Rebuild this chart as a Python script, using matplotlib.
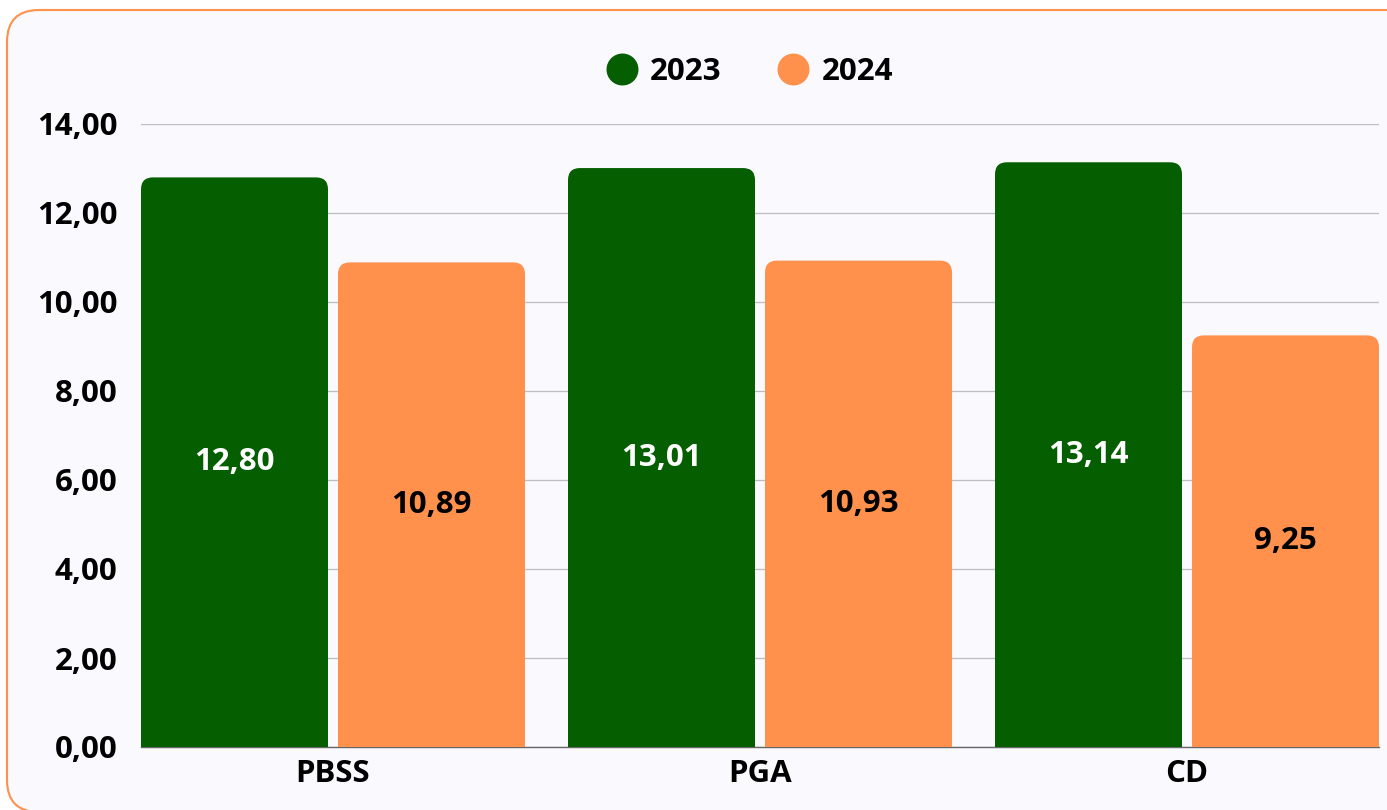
import matplotlib.pyplot as plt
from matplotlib.patches import FancyBboxPatch
from matplotlib.lines import Line2D

categories = ["PBSS", "PGA", "CD"]
series_names = ["2023", "2024"]
values_2023 = [12.80, 13.01, 13.14]
values_2024 = [10.89, 10.93, 9.25]
y_ticks = [0, 2, 4, 6, 8, 10, 12, 14]

green = "#055e00"
orange = "#ff914d"
plt.rcParams['font.family'] = ['Open Sans', 'DejaVu Sans']
plt.rcParams['font.weight'] = 'bold'
fs = 22.5

W, H = 1387, 810
fig = plt.figure(figsize=(W / 100, H / 100), dpi=100)
fig.patch.set_facecolor("white")

# карточка с закруглёнными углами
card = FancyBboxPatch((7, -2), 1420, 802, boxstyle="round,pad=0,rounding_size=32",
                      transform=None, facecolor="#f9f9fe", edgecolor=orange, linewidth=1.5,
                      zorder=-5)
fig.patches.append(card)

ax = fig.add_axes([141 / W, (H - 747) / H, (1379 - 141) / W, (747 - 124) / H])
ax.set_facecolor("none")
ax.set_zorder(2)

bar_w = 187 / 427
gap = 10 / 427
ax.set_xlim(-gap / 2 - bar_w, len(categories) - 1 + gap / 2 + bar_w)
ax.set_ylim(0, 14)

px_x = 427.0
px_y = 44.5
radius = 12 / px_x
aspect = px_x / px_y

def rounded_bar(x0, h, color):
    p = FancyBboxPatch((x0, -1), bar_w, h + 1,
                       boxstyle=f"round,pad=0,rounding_size={radius}",
                       mutation_aspect=aspect, facecolor=color, edgecolor="none",
                       zorder=3, clip_on=True)
    ax.add_patch(p)

for i, cat in enumerate(categories):
    v1 = values_2023[i]
    v2 = values_2024[i]
    x1 = i - gap / 2 - bar_w
    x2 = i + gap / 2
    rounded_bar(x1, v1, green)
    rounded_bar(x2, v2, orange)
    ax.text(x1 + bar_w / 2, v1 / 2, f"{v1:.2f}".replace(".", ","), ha="center", va="center",
            color="white", fontsize=fs, fontweight="bold", zorder=5)
    ax.text(x2 + bar_w / 2, v2 / 2, f"{v2:.2f}".replace(".", ","), ha="center", va="center",
            color="black", fontsize=fs, fontweight="bold", zorder=5)

ax.set_yticks(y_ticks, [f"{t:.2f}".replace(".", ",") for t in y_ticks])
ax.set_xticks(range(len(categories)), categories)
ax.tick_params(axis="y", length=0, pad=17, labelsize=fs)
ax.tick_params(axis="x", length=0, pad=9, labelsize=fs)
for lbl in ax.get_xticklabels() + ax.get_yticklabels():
    lbl.set_fontweight("bold")

ax.grid(axis="y", color="#bdbdbd", linewidth=0.9, zorder=1)
ax.set_axisbelow(True)
for s in ["left", "right", "top"]:
    ax.spines[s].set_visible(False)
ax.spines["bottom"].set_color("#666666")
ax.spines["bottom"].set_linewidth(1)
ax.spines["bottom"].set_zorder(2)

handles = [Line2D([], [], ls="", marker="o", ms=22, color=green),
           Line2D([], [], ls="", marker="o", ms=22, color=orange)]
leg = fig.legend(handles, series_names, loc="center", bbox_to_anchor=(748 / W, (H - 72) / H),
                 ncol=2, frameon=False, prop={"size": fs, "weight": "bold"},
                 handletextpad=0.3, columnspacing=1.7, handlelength=1.2)

fig.savefig("out.png", dpi=100, facecolor="white")
